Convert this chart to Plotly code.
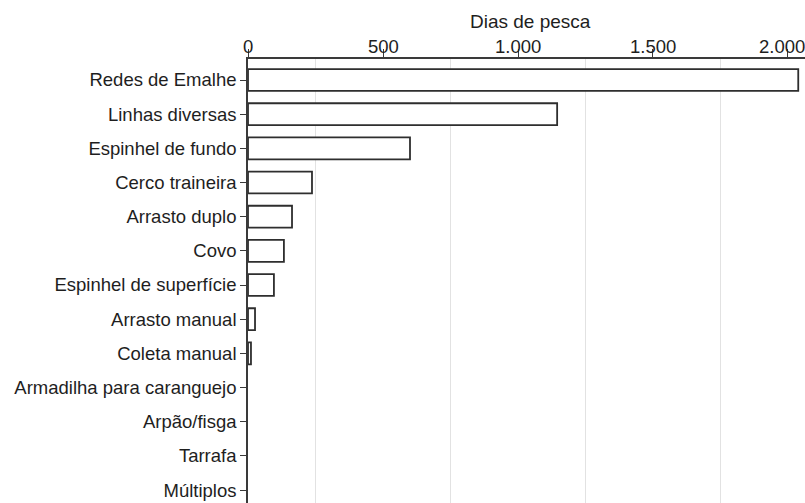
import plotly.graph_objects as go

# Fishing gear categories and their fishing days
gear = [
    "Redes de Emalhe", "Linhas diversas", "Espinhel de fundo", "Cerco traineira",
    "Arrasto duplo", "Covo", "Espinhel de superfície", "Arrasto manual",
    "Coleta manual", "Armadilha para caranguejo", "Arpão/fisga", "Tarrafa", "Múltiplos",
]
dias = [2038, 1145, 600, 237, 163, 133, 96, 26, 11, 0, 0, 0, 0]
x_ticks = [0, 500, 1000, 1500, 2000]
x_tick_text = ["0", "500", "1.000", "1.500", "2.000"]
grid_vals = [250, 750, 1250, 1750]
x_title = "Dias de pesca"

font_family = "Liberation Sans, Arial, sans-serif"
ink = "#1e1e1e"
axis_ink = "#3a3a3a"
x_range = [0, 2063]

# empty categories get no outline so nothing is drawn for them
outline_w = [1.8 if v > 0 else 0 for v in dias]

fig = go.Figure(
    go.Bar(
        x=dias,
        y=gear,
        orientation="h",
        width=0.64,
        marker=dict(color="white", line=dict(color="#2e2e2e", width=outline_w)),
    )
)

# invisible overlay axis carrying only the light vertical gridlines
fig.add_trace(go.Scatter(x=[None], y=[None], xaxis="x2", yaxis="y",
                         showlegend=False, hoverinfo="skip"))

# top tick labels set tight against the axis line; the last one nudged inside the page
for i, (v, t) in enumerate(zip(x_ticks, x_tick_text)):
    fig.add_annotation(
        x=v, xref="x", y=1, yref="paper",
        text=t, showarrow=False,
        xanchor="center", yanchor="bottom",
        xshift=-6 if i == len(x_ticks) - 1 else 0,
        yshift=0,
        font=dict(family=font_family, size=18.5, color=ink),
    )

fig.add_annotation(
    x=0.5, xref="paper", y=1, yref="paper",
    text=x_title, showarrow=False,
    xanchor="center", yanchor="bottom", xshift=4, yshift=25,
    font=dict(family=font_family, size=19, color=ink),
)

fig.update_layout(
    width=805,
    height=503,
    margin=dict(l=248, r=0, t=59, b=0),
    paper_bgcolor="white",
    plot_bgcolor="white",
    showlegend=False,
    font=dict(family=font_family, size=18.5, color=ink),
    xaxis=dict(
        side="top",
        range=x_range,
        tickvals=x_ticks,
        showticklabels=False,
        ticks="outside",
        ticklen=8,
        tickwidth=1.2,
        tickcolor=axis_ink,
        showline=True,
        linecolor=axis_ink,
        linewidth=1.6,
        showgrid=False,
        zeroline=False,
        automargin=False,
    ),
    xaxis2=dict(
        overlaying="x",
        anchor="y",
        side="bottom",
        range=x_range,
        tickvals=grid_vals,
        showticklabels=False,
        ticks="",
        showgrid=True,
        gridcolor="#e2e2e2",
        gridwidth=1,
        zeroline=False,
        showline=False,
        automargin=False,
        layer="below traces",
    ),
    yaxis=dict(
        categoryorder="array",
        categoryarray=gear,
        range=[12.38, -0.615],
        ticks="outside",
        ticklen=6,
        tickwidth=1.2,
        tickcolor=axis_ink,
        ticklabelstandoff=0,
        tickfont=dict(size=18.5, color=ink),
        showline=True,
        linecolor=axis_ink,
        linewidth=1.6,
        showgrid=False,
        zeroline=False,
        automargin=False,
    ),
)

fig.write_html("out.html")
